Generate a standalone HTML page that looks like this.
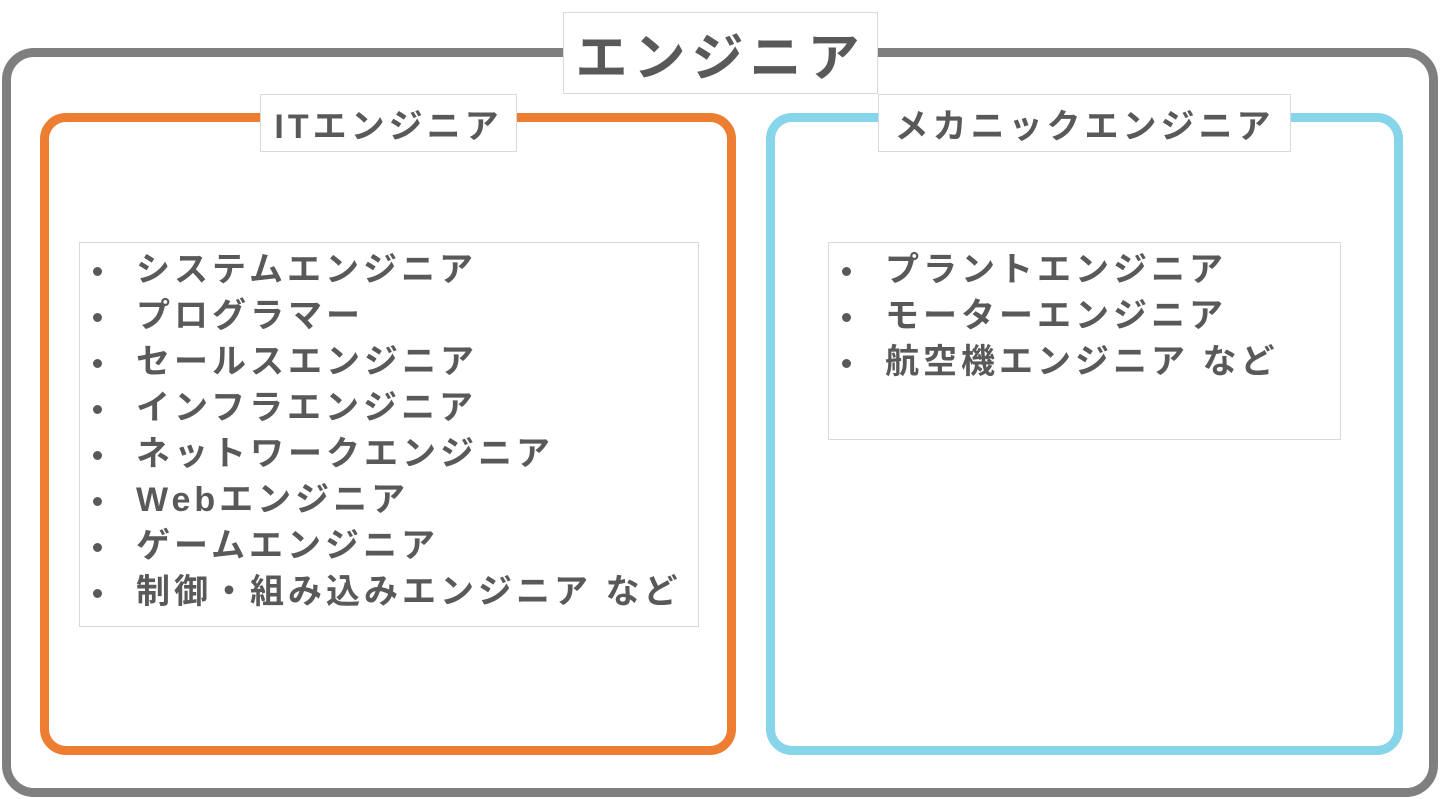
<!DOCTYPE html>
<html><head><meta charset="utf-8"><style>
body{margin:0;width:1440px;height:799px;background:#fff;position:relative;overflow:hidden;font-family:"Liberation Sans","Noto Sans CJK JP",sans-serif;font-weight:bold;color:#595959}
.b{position:absolute;box-sizing:border-box}
.lbl{position:absolute;box-sizing:border-box;background:#fff;border:1px solid #d9d9d9;display:flex;align-items:center;justify-content:center;white-space:nowrap;letter-spacing:4px}
.list{position:absolute;box-sizing:border-box;background:#fff;border:1px solid #d9d9d9;font-size:34px;padding-top:4px;letter-spacing:4px}
.list div{height:46px;line-height:46px;position:relative;padding-left:56px;white-space:nowrap}
.list div:before{content:"";position:absolute;left:13px;top:20px;width:9px;height:9px;border-radius:50%;background:#595959}
</style></head><body>
<div class="b" style="left:2px;top:48px;width:1436px;height:749px;border:9px solid #7f7f7f;border-radius:32px"></div>
<div class="b" style="left:40px;top:113px;width:696px;height:642px;border:9px solid #ed7d31;border-radius:26px"></div>
<div class="b" style="left:766px;top:113px;width:637px;height:642px;border:9px solid #87d5eb;border-radius:26px"></div>
<div class="lbl" style="left:563px;top:12px;width:315px;height:82px;font-size:52px;letter-spacing:6px">エンジニア</div>
<div class="lbl" style="left:260px;top:94px;width:257px;height:58px;font-size:34px">ITエンジニア</div>
<div class="lbl" style="left:878px;top:94px;width:413px;height:58px;font-size:34px">メカニックエンジニア</div>
<div class="list" style="left:79px;top:242px;width:620px;height:385px">
<div>システムエンジニア</div><div>プログラマー</div><div>セールスエンジニア</div><div>インフラエンジニア</div><div>ネットワークエンジニア</div><div>Webエンジニア</div><div>ゲームエンジニア</div><div>制御・組み込みエンジニア など</div>
</div>
<div class="list" style="left:828px;top:242px;width:513px;height:198px">
<div>プラントエンジニア</div><div>モーターエンジニア</div><div>航空機エンジニア など</div>
</div>
</body></html>
